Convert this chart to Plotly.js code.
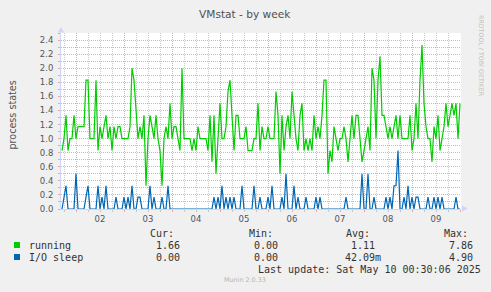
<!DOCTYPE html>
<html>
<head>
<meta charset="utf-8">
<script src="https://cdn.plot.ly/plotly-3.0.1.min.js"></script>
<style>
html,body{margin:0;padding:0;background:#F0F0F0;}
#chart{width:491px;height:292px;}
</style>
</head>
<body>
<div id="chart"></div>
<script>
// ---- data (hourly samples, first at 2025-05-01 17:00) ----
const seriesNames = ["running", "I/O sleep"];
const seriesColors = ["#00CC00", "#0066B3"];
const running = [
  0.83,1,1.33,0.83,1,1,1.33,1,1.17,1.17,1.17,1.17,1.83,1.83,1,1,1,1.83,0.83,1.17,
  1,1.17,1.33,1,1.17,0.83,1.17,1,1.17,1.17,1,1,1,1,1.17,2,1.83,1.33,1,1.17,
  1,1.33,0.33,1,1.33,1.17,1,1.33,1,0.83,0.33,1,1.17,1,1.5,1,1.17,1.17,1,0.83,
  2,1,1,1,1,0.83,1,0.83,1.17,1,1,1,1,0.83,1.33,0.67,1.33,0.5,1,1.5,
  1,1,1.17,1.67,1.83,1.33,0.83,1.33,1.33,1,1,1,1.17,0.83,0.83,0.83,1,1,1.5,0.83,
  1.17,1,1,1.17,1,1,1,1.67,1.33,0.5,1.33,0.83,1.17,1.33,1,1.67,1.33,1,0.83,1.33,
  1.5,0.83,1,0.83,1,0.83,1.33,1,1.17,1,1.33,1.83,1.83,0.5,0.83,0.67,1.17,1,0.83,1,
  1,1.17,1,0.67,1,1.33,1,1.33,1.33,1,0.67,0.83,1,1.17,0.83,2,1.83,1,1.83,2.17,
  1.33,1.33,1.17,1,1.17,1,1.17,1.33,1,1.33,1,1,1,1,1.33,0.83,1,1.5,1,1.83,
  2.33,1.5,1.17,1,1,0.67,1.17,1,1.33,0.83,1,1.17,1.5,1.17,1.33,1.5,1.33,1.5,1,1.5
];
const ioSleep = [
  0,0.17,0.33,0,0,0,0,0.5,0,0,0,0,0.17,0.33,0,0,0,0,0.33,0,
  0.17,0,0.33,0,0,0,0,0.17,0,0,0,0.17,0,0.17,0,0.33,0,0,0.17,0.17,
  0,0,0,0,0.33,0,0.17,0,0,0,0.17,0,0,0.33,0,0,0,0,0,0,
  0,0,0,0,0,0,0,0,0,0,0,0,0,0,0,0,0.17,0,0.17,0,
  0.33,0,0.17,0,0.17,0,0.17,0,0,0,0.33,0,0,0,0,0,0.33,0,0,0.17,
  0,0,0,0.17,0,0.33,0,0,0,0,0.17,0,0.5,0,0,0,0.33,0,0.17,0,
  0,0,0.17,0,0,0,0,0.17,0,0.17,0,0,0,0,0,0,0,0,0,0,
  0,0,0.17,0,0,0,0,0,0,0,0.5,0,0,0.5,0,0,0.17,0,0,0,
  0,0,0.17,0,0.17,0,0.33,0.33,0.83,0,0,0.17,0,0.33,0,0.17,0,0.17,0.17,0,
  0,0,0,0.17,0,0,0.17,0,0.17,0,0.17,0,0,0,0,0,0,0.17,0,0
];
const dayLabels = ["02","03","04","05","06","07","08","09"];
const legendHeaders = ["Cur:", "Min:", "Avg:", "Max:"];
const runningStats = ["1.66", "0.00", "1.11", "7.86"];
const ioSleepStats = ["0.00", "0.00", "42.09m", "4.90"];
const lastUpdate = "Last update: Sat May 10 00:30:06 2025";

// ---- time axis ----
const HOUR = 3600000, DAY = 24 * HOUR;
const firstSample = Date.UTC(2025, 4, 1, 17, 0);
const rangeStart = Date.UTC(2025, 4, 1, 16, 30);
const rangeEnd = Date.UTC(2025, 4, 10, 0, 30);
const xs = running.map((_, i) => firstSample + i * HOUR);
const tickNoon = dayLabels.map((_, i) => Date.UTC(2025, 4, 2 + i, 12, 0));

// ---- geometry helpers (pixel -> paper) ----
const W = 491, H = 292, ML = 61, MR = 30, MT = 33, MB = 83;
const PW = W - ML - MR, PH = H - MT - MB;
const px = x => (x - ML) / PW;
const py = y => (H - MB - y) / PH;

const RED = "rgba(240,130,130,0.7)";
const GREY = "rgba(180,180,180,0.7)";
const AXIS = "#CFD6F8";
const TXT = "#333333";

const traces = [
  {x: xs, y: running, type: "scatter", mode: "lines", name: seriesNames[0],
   line: {color: seriesColors[0], width: 1.2}, xaxis: "x", yaxis: "y", hoverinfo: "skip"},
  {x: xs, y: ioSleep, type: "scatter", mode: "lines", name: seriesNames[1],
   line: {color: seriesColors[1], width: 1.2}, xaxis: "x2", yaxis: "y", hoverinfo: "skip"}
];

const annotations = [];
function txt(text, x, y, opts) {
  annotations.push(Object.assign({
    text: text, xref: "paper", yref: "paper", x: px(x), y: py(y),
    xanchor: "left", yanchor: "middle", showarrow: false,
    font: {family: "DejaVu Sans Mono", size: 10, color: TXT}
  }, opts || {}));
}
const headX = [148, 246.5, 344, 441.5];
legendHeaders.forEach((h, i) => txt(h, headX[i], 233.7));
const colX = [154, 252, 349, 446.5];
txt(seriesNames[0], 27, 245.7);
txt(seriesNames[1], 26.5, 257.7);
runningStats.forEach((v, i) => txt(v, colX[i], 245.7));
ioSleepStats.forEach((v, i) => txt(v, i === 2 ? 343 : colX[i], 257.7));
txt(lastUpdate, 255.5, 269.3);
txt("Munin 2.0.33", 245, 280.3, {xanchor: "center", font: {family: "DejaVu Sans", size: 6.4, color: "#b4b4b4"}});
txt("RRDTOOL / TOBI OETIKER", 482, 56, {xanchor: "center", textangle: 90, font: {family: "DejaVu Sans", size: 6.3, color: "#c0c0c0"}});
txt("process states", 11.5, 115, {xanchor: "center", textangle: -90, font: {family: "DejaVu Sans", size: 9.6, color: "#555555"}});
txt("VMstat - by week", 245, 14, {xanchor: "center", font: {family: "DejaVu Sans", size: 10.6, color: "#505050"}});

const shapes = [
  {type: "rect", xref: "paper", yref: "paper", x0: px(14), x1: px(20), y0: py(248), y1: py(242),
   fillcolor: seriesColors[0], line: {width: 0}},
  {type: "rect", xref: "paper", yref: "paper", x0: px(14), x1: px(20), y0: py(260), y1: py(254),
   fillcolor: seriesColors[1], line: {width: 0}},
  {type: "path", xref: "paper", yref: "paper",
   path: `M ${px(58)} ${py(32.5)} L ${px(64)} ${py(32.5)} L ${px(61)} ${py(26.5)} Z`,
   fillcolor: AXIS, line: {width: 0}},
  {type: "path", xref: "paper", yref: "paper",
   path: `M ${px(462)} ${py(205.5)} L ${px(462)} ${py(211.5)} L ${px(468)} ${py(208.5)} Z`,
   fillcolor: AXIS, line: {width: 0}}
];

const layout = {
  width: W, height: H,
  margin: {l: ML, r: MR, t: MT, b: MB, pad: 0},
  paper_bgcolor: "#F0F0F0", plot_bgcolor: "#FFFFFF",
  showlegend: false,
  font: {family: "DejaVu Sans", size: 8.5, color: "#555555"},
  xaxis: {
    type: "date", range: [rangeStart, rangeEnd],
    tick0: Date.UTC(2025, 4, 2, 0, 0), dtick: DAY,
    showticklabels: false, showgrid: true, gridcolor: RED, griddash: "1px,1px", gridwidth: 1,
    ticks: "outside", ticklen: 2, tickcolor: RED,
    minor: {tick0: Date.UTC(2025, 4, 2, 0, 0), dtick: 6 * HOUR, showgrid: true,
            gridcolor: GREY, griddash: "1px,1px", ticks: "outside", ticklen: 2, tickcolor: GREY},
    showline: true, linecolor: AXIS, linewidth: 1, zeroline: false, fixedrange: true
  },
  xaxis2: {
    type: "date", overlaying: "x", anchor: "y", side: "bottom",
    range: [rangeStart, rangeEnd],
    tickmode: "array", tickvals: tickNoon, ticktext: dayLabels,
    showgrid: false, ticks: "", showline: false, zeroline: false,
    tickfont: {family: "DejaVu Sans", size: 8.5, color: "#555555"},
    ticklabelstandoff: 3, fixedrange: true
  },
  yaxis: {
    range: [0, 2.5], tick0: 0, dtick: 0.2, tickformat: ".1f",
    showgrid: true, gridcolor: RED, griddash: "1px,1px", gridwidth: 1,
    minor: {dtick: 0.1, tick0: 0, showgrid: true, gridcolor: RED, griddash: "1px,1px",
            ticks: "outside", ticklen: 2, tickcolor: RED},
    ticks: "outside", ticklen: 2, tickcolor: RED,
    showline: true, linecolor: AXIS, linewidth: 1, zeroline: false,
    tickfont: {family: "DejaVu Sans", size: 8.5, color: "#555555"},
    ticklabelstandoff: 3, fixedrange: true
  },
  annotations: annotations,
  shapes: shapes
};

Plotly.newPlot("chart", traces, layout, {staticPlot: true, displayModeBar: false});
</script>
</body>
</html>
